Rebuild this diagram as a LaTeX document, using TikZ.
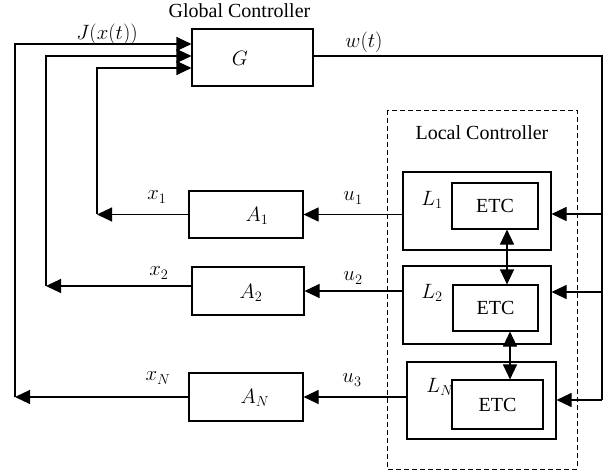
\documentclass[tikz,border=0pt]{standalone}
\usepackage{fontspec}
\setmainfont{Liberation Serif}
\usetikzlibrary{arrows.meta}
\begin{document}
\begin{tikzpicture}[x=1pt,y=-1pt,
  line width=1.1pt,
  box/.style={draw, line width=1.1pt, inner sep=0pt},
  arr/.style={-{Triangle[length=15pt,width=14pt]}},
  darr/.style={{Triangle[length=15pt,width=14pt]}-{Triangle[length=15pt,width=14pt]}},
  txt/.style={font=\fontsize{20}{24}\selectfont, inner sep=0pt},
  mtxt/.style={font=\fontsize{21}{25}\selectfont, inner sep=0pt},
]
\useasboundingbox (0,0) rectangle (613,473);

% Global controller
\node[box,minimum width=121pt,minimum height=57pt] (G) at (252.5,57.5) {};
\node[mtxt] (Gl) at (240,58) {$G$};
\node[txt,anchor=base] (GC) at (239.5,18) {Global Controller};

% Plants
\node[box,minimum width=114pt,minimum height=47pt] (A1) at (246,214.5) {};
\node[box,minimum width=112pt,minimum height=48pt] (A2) at (248,291) {};
\node[box,minimum width=114pt,minimum height=48pt] (AN) at (246,397) {};
\node[mtxt] (A1l) at (257,216) {$A_1$};
\node[mtxt] (A2l) at (251,293) {$A_2$};
\node[mtxt] (ANl) at (255,398) {$A_N$};

% Local controller region
\draw[line width=0.9pt,dash pattern=on 5pt off 3pt] (387,110) rectangle (577,469);
\node[txt,anchor=base] (LC) at (482,140) {Local Controller};

\node[box,minimum width=148pt,minimum height=78pt] (L1) at (477,211) {};
\node[box,minimum width=86pt,minimum height=46pt] (E1) at (495,206) {};
\node[txt] at (E1) {ETC};
\node[box,minimum width=148pt,minimum height=78pt] (L2) at (477,305) {};
\node[box,minimum width=85pt,minimum height=46pt] (E2) at (495.5,308) {};
\node[txt] at (E2) {ETC};
\node[box,minimum width=149pt,minimum height=77pt] (LN) at (481.5,400.5) {};
\node[box,minimum width=91pt,minimum height=49pt] (EN) at (497.5,404.5) {};
\node[txt] at (EN) {ETC};
\node[mtxt] (L1l) at (432,200) {$L_1$};
\node[mtxt] (L2l) at (432,293) {$L_2$};
\node[mtxt] (LNl) at (440,387) {$L_N$};

% feedback lines to G
\coordinate (o1) at (15,44);
\coordinate (o2) at (15,397);
\draw[arr] (AN.west) -- (o2);
\draw[arr] (o2) -- (o1) -- (o1 -| G.west);

\coordinate (m1) at (46,56);
\coordinate (m2) at (46,286);
\draw[arr] (m2 -| A2.west) -- (m2);
\draw[arr] (m2) -- (m1) -- (m1 -| G.west);

\coordinate (i1) at (97,68);
\coordinate (i2) at (97,214.5);
\draw[arr] (A1.west) -- (i2);
\draw[arr] (i2) -- (i1) -- (i1 -| G.west);

% control inputs
\draw[arr] (A1.east -| L1.west) -- (A1.east);
\draw[arr] (A2.east -| L2.west) -- (A2.east);
\draw[arr] (AN.east -| LN.west) -- (AN.east);

% w(t) line
\coordinate (w1) at (602,56);
\coordinate (w2) at (602,400);
\draw (w1 -| G.east) -- (w1) -- (w2);
\coordinate (r1) at (602,214);
\coordinate (r2) at (602,292);
\draw[arr] (r1) -- (r1 -| L1.east);
\draw[arr] (r2) -- (r2 -| L2.east);
\draw[arr] (w2) -- (w2 -| LN.east);

% ETC communication
\coordinate (d1) at (507,0);
\coordinate (d2) at (510,0);
\draw[darr] (E1.south -| d1) -- (E2.north -| d1);
\draw[darr] (E2.south -| d2) -- (EN.north -| d2);

% labels
\node[mtxt] (Jl) at (107,34) {$J\big(x(t)\big)$};
\node[mtxt] (wl) at (364,42) {$w(t)$};
\node[mtxt] (x1l) at (157,197) {$x_1$};
\node[mtxt] (x2l) at (159,273) {$x_2$};
\node[mtxt] (xNl) at (158,378) {$x_N$};
\node[mtxt] (u1l) at (353,198) {$u_1$};
\node[mtxt] (u2l) at (353,278) {$u_2$};
\node[mtxt] (u3l) at (352,380) {$u_3$};
\end{tikzpicture}
\end{document}
